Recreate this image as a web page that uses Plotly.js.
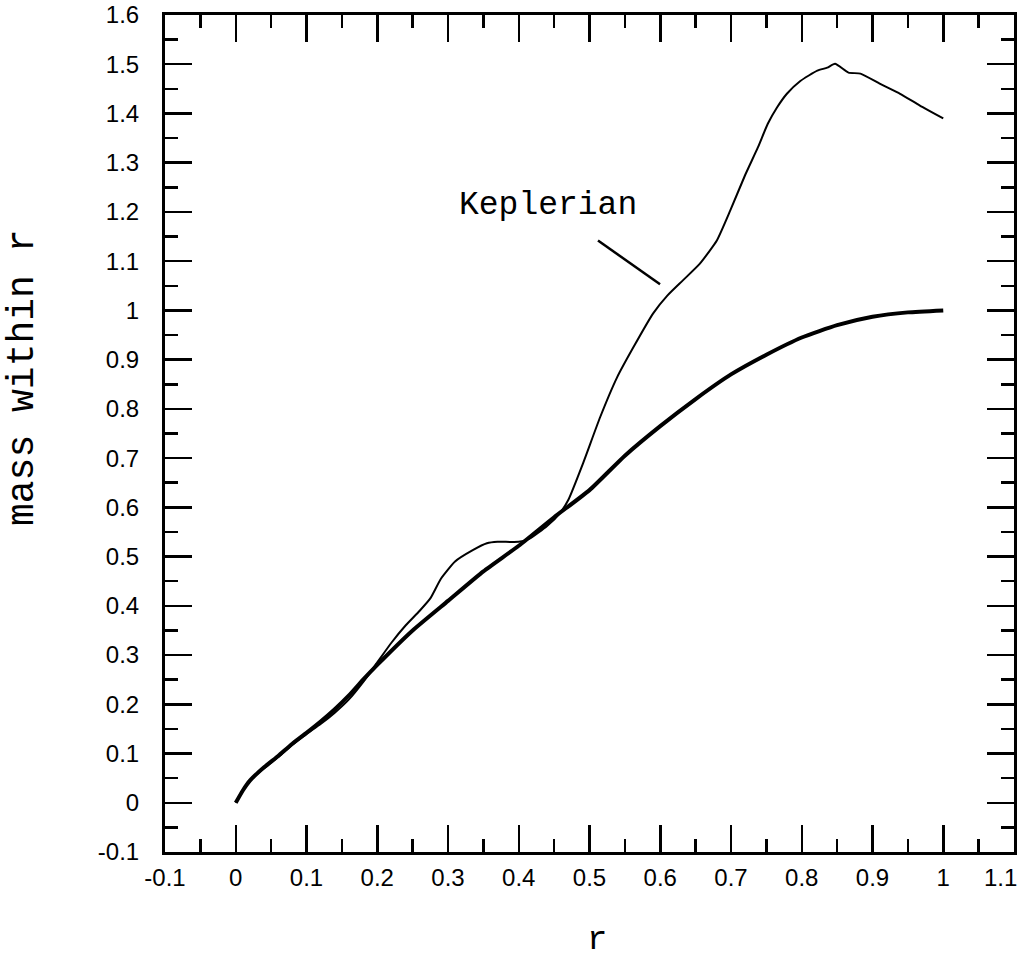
<!DOCTYPE html>
<html>
<head>
<meta charset="utf-8">
<script src="https://cdn.plot.ly/plotly-3.0.1.min.js"></script>
<style>
  html, body { margin: 0; padding: 0; background: #fff; }
  #grafico { width: 1024px; height: 963px; }
</style>
</head>
<body>
<div id="grafico"></div>
<script>
// curva grossa: massa dentro de r
var rMassa = [0, 0.01, 0.02, 0.04, 0.06, 0.08, 0.1, 0.12, 0.14, 0.16, 0.18, 0.2, 0.25, 0.3, 0.35, 0.4, 0.45,
  0.5, 0.55, 0.6, 0.65, 0.7, 0.75, 0.8, 0.85, 0.9, 0.95, 1.0];
var massa = [0, 0.025, 0.045, 0.072, 0.095, 0.12, 0.142, 0.165, 0.19, 0.218, 0.25, 0.28, 0.35, 0.41, 0.47, 0.522, 0.58,
  0.635, 0.705, 0.765, 0.82, 0.87, 0.91, 0.945, 0.97, 0.987, 0.996, 1.0];

// curva fina: Kepleriana
var rKepler = [0, 0.01, 0.02, 0.04, 0.06, 0.08, 0.1, 0.12, 0.14, 0.16, 0.18, 0.2, 0.22, 0.24, 0.26, 0.275, 0.29, 0.31,
  0.335, 0.355, 0.37, 0.4, 0.416, 0.44, 0.458, 0.47, 0.491, 0.515, 0.539, 0.562, 0.59, 0.61, 0.632, 0.656, 0.68,
  0.699, 0.72, 0.738, 0.752, 0.765, 0.779, 0.798, 0.822, 0.836, 0.847, 0.866, 0.883, 0.911, 0.939, 0.967, 1.0];
var massaKepler = [0, 0.025, 0.045, 0.07, 0.093, 0.118, 0.14, 0.16, 0.183, 0.21, 0.245, 0.285, 0.325, 0.36, 0.39, 0.415, 0.455, 0.49,
  0.513, 0.527, 0.53, 0.53, 0.537, 0.562, 0.588, 0.615, 0.69, 0.783, 0.864, 0.925, 0.994, 1.03, 1.061, 1.095, 1.142,
  1.203, 1.275, 1.331, 1.379, 1.412, 1.44, 1.466, 1.487, 1.493, 1.501, 1.483, 1.481, 1.46, 1.44, 1.416, 1.39];

// rotulos dos eixos
var ticksX = [-0.1, 0, 0.1, 0.2, 0.3, 0.4, 0.5, 0.6, 0.7, 0.8, 0.9, 1, 1.1];
var labelsX = ['-0.1', '0', '0.1', '0.2', '0.3', '0.4', '0.5', '0.6', '0.7', '0.8', '0.9', '1', '1.1'];
var ticksY = [-0.1, 0, 0.1, 0.2, 0.3, 0.4, 0.5, 0.6, 0.7, 0.8, 0.9, 1, 1.1, 1.2, 1.3, 1.4, 1.5, 1.6];
var labelsY = ['-0.1', '0', '0.1', '0.2', '0.3', '0.4', '0.5', '0.6', '0.7', '0.8', '0.9', '1', '1.1', '1.2', '1.3', '1.4', '1.5', '1.6'];

var textoKepler = 'Keplerian';

var fonteMono = 'Liberation Mono, Courier New, monospace';
var fonteSans = 'Liberation Sans, Arial, sans-serif';

function eixo(vals, txt, range) {
  return {
    range: range,
    tickmode: 'array',
    tickvals: vals,
    ticktext: txt,
    ticks: 'inside',
    ticklen: 27,
    tickwidth: 2.5,
    tickcolor: '#000',
    minor: { ticks: 'inside', ticklen: 13, tickwidth: 2.5, tickcolor: '#000', dtick: 0.05, tick0: 0 },
    showline: true,
    linewidth: 3,
    linecolor: '#000',
    mirror: 'ticks',
    showgrid: false,
    zeroline: false,
    fixedrange: true,
    tickfont: { family: fonteSans, size: 24, color: '#000' }
  };
}

var data = [{
  type: 'scatter', mode: 'lines',
  x: rMassa, y: massa,
  line: { color: '#000', width: 4, shape: 'spline', smoothing: 0.5 },
  hoverinfo: 'x+y'
}, {
  type: 'scatter', mode: 'lines',
  x: rKepler, y: massaKepler,
  line: { color: '#000', width: 2, shape: 'spline', smoothing: 0.5 },
  name: textoKepler,
  hoverinfo: 'x+y'
}];

// o ultimo rotulo de x fica um pouco a esquerda no original: desenhado a parte
var ultimoX = labelsX[labelsX.length - 1];
var textoX = labelsX.slice();
textoX[textoX.length - 1] = '';

var eixoX = eixo(ticksX, textoX, [-0.1, 1.1]);
eixoX.ticklabelstandoff = 2;
var eixoY = eixo(ticksY, labelsY, [-0.1, 1.6]);
eixoY.ticklabelstandoff = 18;

var layout = {
  width: 1024,
  height: 963,
  margin: { l: 165, r: 10, t: 15, b: 111 },
  paper_bgcolor: '#fff',
  plot_bgcolor: '#fff',
  showlegend: false,
  xaxis: eixoX,
  yaxis: eixoY,
  annotations: [
    { text: textoKepler, x: 0.442, y: 1.213, xref: 'x', yref: 'y', showarrow: false,
      font: { family: fonteMono, size: 33, color: '#000' } },
    { text: 'mass within r', textangle: -90, showarrow: false, xanchor: 'center', yanchor: 'middle',
      font: { family: fonteMono, size: 38, color: '#000' } },
    { text: 'r', showarrow: false, xanchor: 'center', yanchor: 'middle',
      font: { family: fonteMono, size: 34, color: '#000' } },
    { text: ultimoX, showarrow: false, xanchor: 'center', yanchor: 'middle',
      font: { family: fonteSans, size: 24, color: '#000' } }
  ],
  shapes: [
    { type: 'line', xref: 'x', yref: 'y', x0: 0.512, y0: 1.142, x1: 0.5997, y1: 1.053,
      line: { color: '#000', width: 2.5 } }
  ]
};

// converte as posicoes em pixels dos textos para coordenadas do papel
var pw = layout.width - layout.margin.l - layout.margin.r;
var ph = layout.height - layout.margin.t - layout.margin.b;
function paraPapel(a, px, py) {
  a.xref = 'paper'; a.yref = 'paper';
  a.x = (px - layout.margin.l) / pw;
  a.y = (layout.height - layout.margin.b - py) / ph;
}
paraPapel(layout.annotations[1], 22, 378);
paraPapel(layout.annotations[2], 597, 940);
paraPapel(layout.annotations[3], 1000, 878);

Plotly.newPlot('grafico', data, layout, { displayModeBar: false, staticPlot: true });
</script>
</body>
</html>
